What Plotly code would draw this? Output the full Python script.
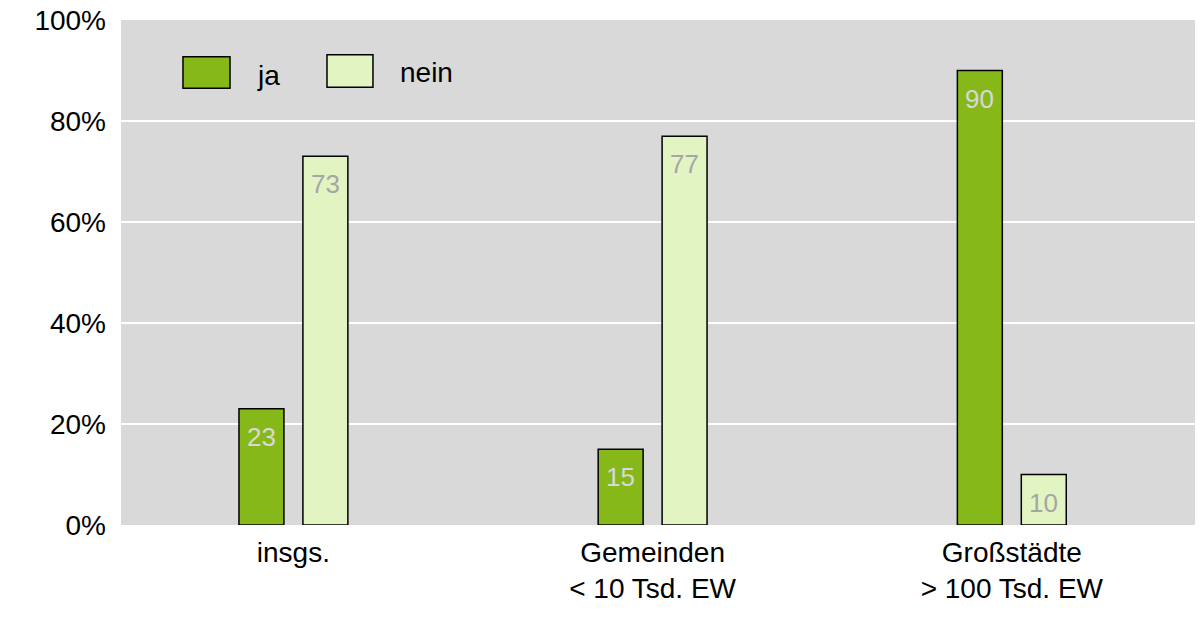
import plotly.graph_objects as go

# Kategorien und Anteile (in Prozent)
categories = ["insgs.", "Gemeinden<br>< 10 Tsd. EW", "Großstädte<br>> 100 Tsd. EW"]
ja_values = [23, 15, 90]
nein_values = [73, 77, 10]
series_names = ["ja", "nein"]
y_ticks = [0, 20, 40, 60, 80, 100]

COLOR_JA = "#86B81A"
COLOR_NEIN = "#E2F4C1"
FONT = "Liberation Sans, Arial, sans-serif"
TXT = 28

fig = go.Figure()
fig.add_trace(go.Bar(
    x=categories, y=ja_values, name=series_names[0],
    marker=dict(color=COLOR_JA, line=dict(color="#000000", width=1.5)),
    showlegend=False, hoverinfo="x+y",
))
fig.add_trace(go.Bar(
    x=categories, y=nein_values, name=series_names[1],
    marker=dict(color=COLOR_NEIN, line=dict(color="#000000", width=1.5)),
    showlegend=False, hoverinfo="x+y",
))

# Werte oben in den Balken
for values, shift, color in [(ja_values, -32, "#D8D8D8"), (nein_values, 32, "#A6A6A6")]:
    for cat, v in zip(categories, values):
        fig.add_annotation(x=cat, y=v, xref="x", yref="y", text=str(v),
                           showarrow=False, xshift=shift, yshift=-11,
                           xanchor="center", yanchor="top",
                           font=dict(family=FONT, size=26, color=color))

# Legende: große Farbfelder oben links im Diagramm
legend_items = [
    (series_names[0], COLOR_JA, 0.0577, 0.1015, 0.865, 0.927, 0.1250, 0.891),
    (series_names[1], COLOR_NEIN, 0.1918, 0.2346, 0.867, 0.931, 0.2580, 0.897),
]
for label, color, x0, x1, y0, y1, tx, ty in legend_items:
    fig.add_shape(type="rect", xref="paper", yref="paper",
                  x0=x0, x1=x1, y0=y0, y1=y1,
                  fillcolor=color, line=dict(color="#000000", width=1.5))
    fig.add_annotation(xref="paper", yref="paper", x=tx, y=ty,
                       text=label, showarrow=False, xanchor="left", yanchor="middle",
                       font=dict(family=FONT, size=TXT, color="#000000"))

fig.update_layout(
    width=1203, height=618,
    margin=dict(l=121, r=8, t=20, b=93),
    paper_bgcolor="#FFFFFF", plot_bgcolor="#D9D9D9",
    barmode="group", bargap=0.644, bargroupgap=0.297,
    font=dict(family=FONT, size=TXT, color="#000000"),
)
fig.update_xaxes(range=[-0.48, 2.51], showgrid=False, showline=False,
                 ticks="", ticklabelstandoff=8, automargin=False,
                 tickfont=dict(family=FONT, size=TXT, color="#000000"))
fig.update_yaxes(range=[0, 100], tickmode="array", tickvals=y_ticks,
                 ticktext=[f"{v}%" for v in y_ticks],
                 showgrid=True, gridcolor="#FFFFFF", gridwidth=2,
                 zeroline=False, showline=False, ticks="", ticklabelstandoff=14,
                 automargin=False,
                 tickfont=dict(family=FONT, size=TXT, color="#000000"))

fig.write_html("out.html")
